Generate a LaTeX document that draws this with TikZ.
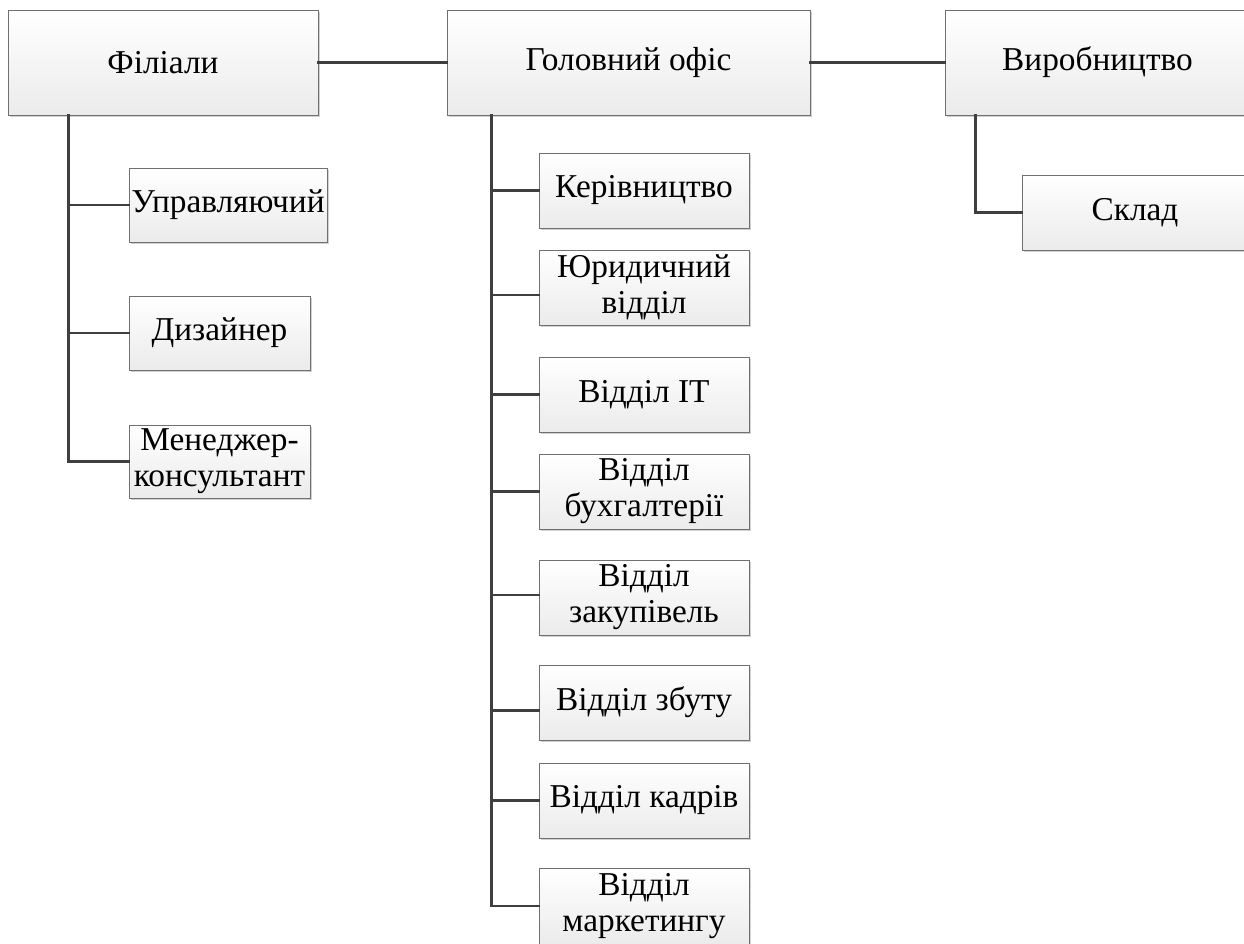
\documentclass[tikz,border=0pt]{standalone}
\usepackage{fontspec}
\setmainfont{Liberation Serif}
\usetikzlibrary{shadows}
\definecolor{boxline}{HTML}{707070}
\definecolor{boxbot}{HTML}{EBEBEB}
\definecolor{conn}{HTML}{3F3F3F}
\tikzset{
  orgbox/.style={draw=boxline, line width=0.7pt, top color=white, bottom color=boxbot,
    drop shadow={shadow xshift=1.6pt, shadow yshift=-1.6pt, fill=black!18, opacity=1},
    align=center, inner sep=0pt, font=\fontsize{25}{27}\selectfont, text=black},
  link/.style={draw=conn, line width=1.6pt, line cap=rect}
}
\newcommand\orgnode[6]{%
  \node[orgbox, minimum width={(#4-#2)*0.75pt}, minimum height={(#5-#3)*0.75pt}]
    (#1) at ({(#2+#4)/2},{(#3+#5)/2}) {#6};}
\begin{document}
\begin{tikzpicture}[x=0.75pt, y=-0.75pt]
\useasboundingbox (0,0) rectangle (1244,944);
\clip (0,0) rectangle (1244,944);
% top level
\orgnode{fil}{8}{10}{318}{115}{Філіали}
\orgnode{gol}{447}{10}{810}{115}{Головний офіс}
\orgnode{vyr}{945}{10}{1250}{115}{Виробництво}
% left children
\orgnode{upr}{129}{168}{327}{242}{Управляючий}
\orgnode{dyz}{129}{296}{310}{370}{Дизайнер}
\orgnode{men}{129}{425}{310}{498}{Менеджер-\\консультант}
% middle children
\orgnode{ker}{539}{153}{749}{228}{Керівництво}
\orgnode{jur}{539}{250}{749}{325}{Юридичний\\відділ}
\orgnode{it}{539}{357}{749}{432}{Відділ IT}
\orgnode{buh}{539}{454}{749}{529}{Відділ\\бухгалтерії}
\orgnode{zak}{539}{560}{749}{635}{Відділ\\закупівель}
\orgnode{zb}{539}{665}{749}{740}{Відділ збуту}
\orgnode{kad}{539}{763}{749}{838}{Відділ кадрів}
\orgnode{mar}{539}{868}{749}{944}{Відділ\\маркетингу}
% right child
\orgnode{skl}{1022}{175}{1248}{250}{Склад}
% top links
\draw[link] (fil.east) -- (gol.west);
\draw[link] (gol.east) -- (vyr.west);
% left branch
\coordinate (filb) at ([xshift=45.75pt]fil.south west);
\draw[link] (filb) |- (upr.west);
\draw[link] (filb) |- (dyz.west);
\draw[link] (filb) |- (men.west);
% middle branch
\coordinate (golb) at ([xshift=33.75pt]gol.south west);
\draw[link] (golb) |- (ker.west);
\draw[link] (golb) |- ([yshift=-5.6pt]jur.west);
\draw[link] (golb) |- (it.west);
\draw[link] (golb) |- (buh.west);
\draw[link] (golb) |- ([yshift=1.9pt]zak.west);
\draw[link] (golb) |- ([yshift=-6pt]zb.west);
\draw[link] (golb) |- (kad.west);
\draw[link] (golb) |- (mar.west);
% right branch
\coordinate (vyrb) at ([xshift=23.25pt]vyr.south west);
\draw[link] (vyrb) |- (skl.west);
\end{tikzpicture}
\end{document}
